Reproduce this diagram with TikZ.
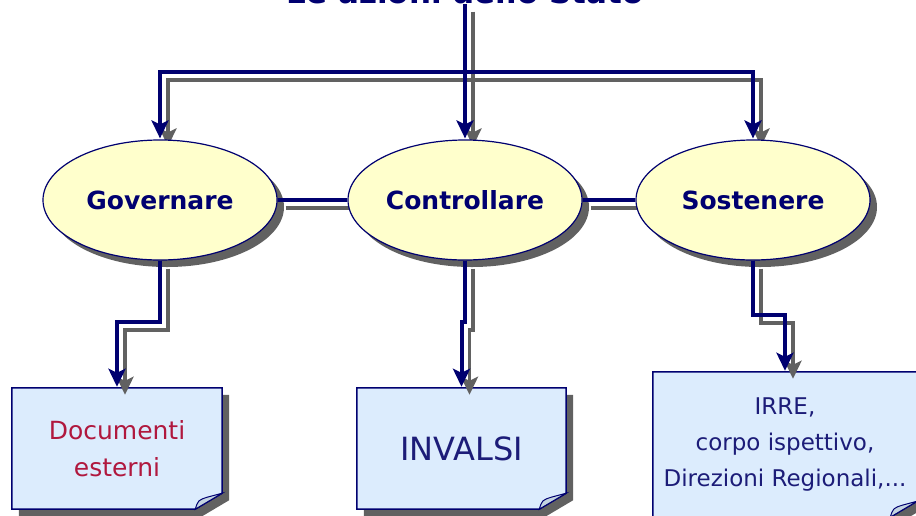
\documentclass[tikz,border=0pt]{standalone}
\usepackage{fontspec}
\setmainfont{DejaVu Sans}
\usetikzlibrary{shapes.geometric,arrows.meta,shadows,backgrounds}
\definecolor{dnavy}{HTML}{000070}
\definecolor{tnavy}{HTML}{1C1C78}
\definecolor{sgray}{HTML}{616161}
\definecolor{lyellow}{HTML}{FFFFCC}
\definecolor{lblue}{HTML}{DCECFD}
\definecolor{flapc}{HTML}{C4D4E0}
\definecolor{crimson}{HTML}{B0183E}
\newcommand\notepath[2]{([shift={#2}]#1.north west) -- ([shift={#2}]#1.north east) -- ([shift={#2},yshift=16pt]#1.south east) -- ([shift={#2},xshift=-27pt]#1.south east) -- ([shift={#2}]#1.south west) -- cycle}
\newcommand\noteflap[1]{([xshift=-27pt]#1.south east) .. controls ([xshift=-24pt,yshift=9pt]#1.south east) .. ([xshift=-15pt,yshift=12pt]#1.south east) -- ([yshift=16pt]#1.south east) -- cycle}
\newcommand\allconn[1]{%
  \draw[#1,tip] (t.south) -- (c.north);
  \draw[#1,tip] (t.south |- bar) -| (g.north);
  \draw[#1,tip] (t.south |- bar) -| (s.north);
  \draw[#1] (g.east) -- (c.west);
  \draw[#1] (c.east) -- (s.west);
  \draw[#1,tip] (g.south) -- (g.south |- k1) -| (d.north);
  \draw[#1,tip] (c.south) -- (c.south |- k1) -| (i.north);
  \draw[#1,tip] (s.south) -- (s.south |- k2) -| (r.north);
}
\begin{document}
\begin{tikzpicture}[x=1pt,y=-1pt,
  ell/.style={ellipse, draw=dnavy, line width=1.2pt, fill=lyellow,
    minimum width=234pt, minimum height=120pt, inner sep=0pt,
    font=\fontsize{25}{30}\selectfont\bfseries, text=dnavy,
    drop shadow={shadow xshift=7pt, shadow yshift=-7pt, fill=sgray, opacity=1}},
  note/.style={inner sep=0pt, align=center, text=tnavy},
  nline/.style={draw=dnavy, line width=4pt, line join=miter},
  sline/.style={draw=sgray, line width=3.5pt, line join=miter},
  tip/.style={-{Stealth[length=18pt,width=17pt,inset=4pt]}, shorten >=1pt},
]
\useasboundingbox (0,0) rectangle (916,515);
\coordinate (bar) at (0,72);
\coordinate (k1) at (0,322);
\coordinate (k2) at (0,315);

% title
\node[font=\fontsize{31}{36}\selectfont\bfseries, text=dnavy, anchor=base, inner sep=0pt] (t) at (465,3) {Le azioni dello Stato};

% ellipses
\node[ell] (g) at (160,200) {Governare};
\node[ell] (c) at (465,200) {Controllare};
\node[ell] (s) at (753,200) {Sostenere};

% note boxes (text)
\node[note, minimum width=210pt, minimum height=121pt, font=\fontsize{25}{37}\selectfont, text=crimson] (d) at (117,448.5) {Documenti\\esterni};
\node[note, minimum width=209pt, minimum height=121pt, font=\fontsize{32}{38}\selectfont] (i) at (461.5,448.5) {INVALSI};
\node[note, minimum width=264pt, minimum height=145pt, font=\fontsize{23}{36}\selectfont] (r) at (785,444.5) {IRRE,\\corpo ispettivo,\\Direzioni Regionali,...};

\begin{scope}[on background layer]
  \foreach \b in {d,i,r}{
    \fill[sgray] \notepath{\b}{(7,7)};
    \filldraw[fill=lblue, draw=dnavy, line width=1.5pt, line join=miter] \notepath{\b}{(0,0)};
    \filldraw[fill=flapc, draw=dnavy, line width=1pt] \noteflap{\b};
  }
  \begin{scope}[transform canvas={shift={(8pt,-8pt)}}]
    \allconn{sline}
  \end{scope}
\end{scope}

\allconn{nline}
\end{tikzpicture}
\end{document}
